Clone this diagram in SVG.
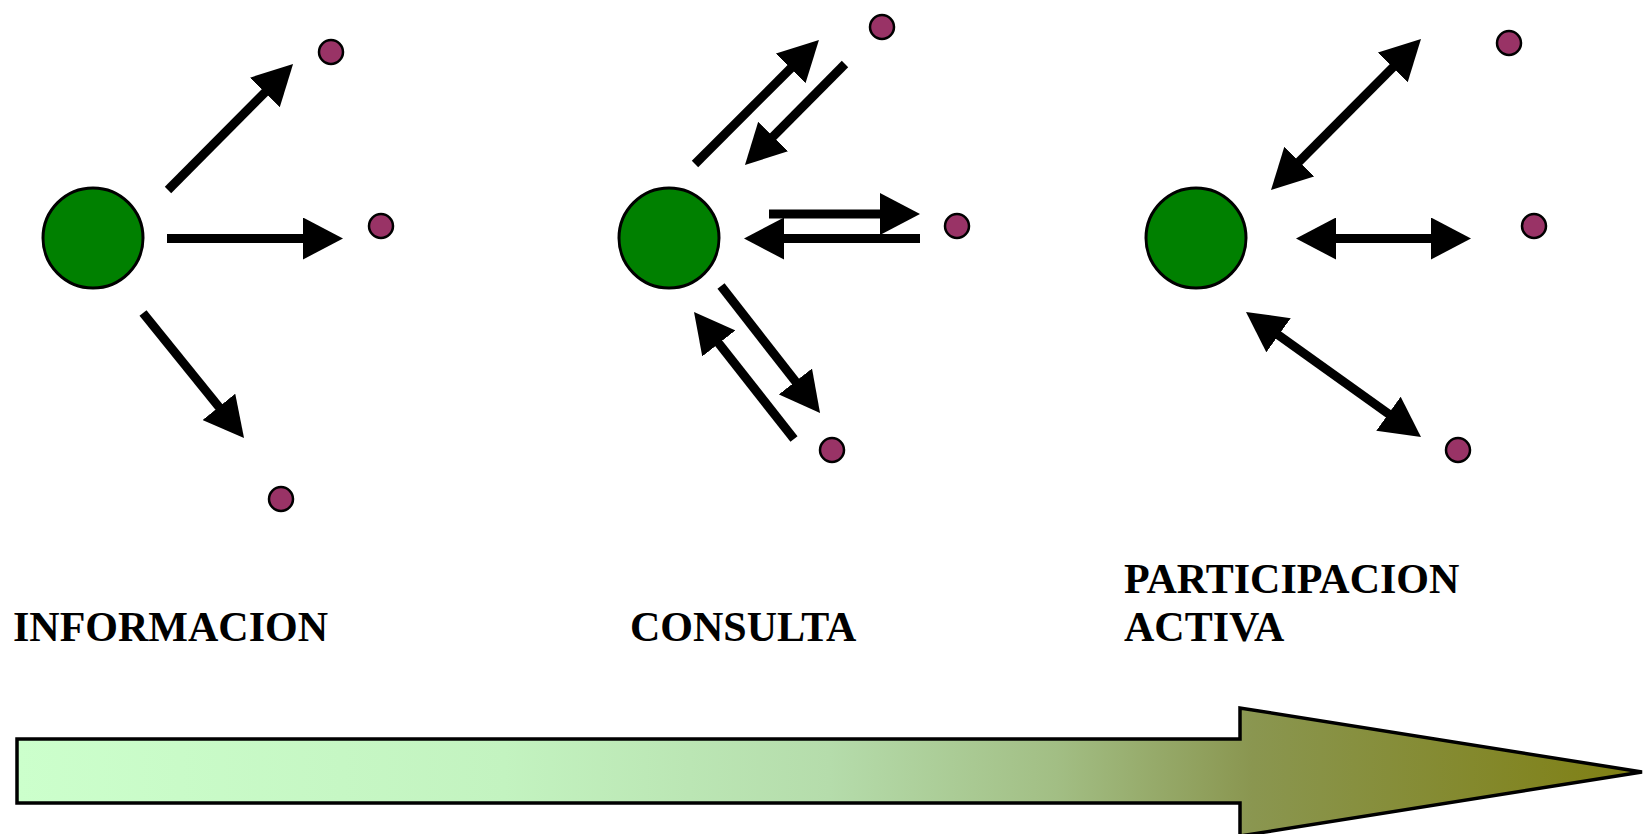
<svg xmlns="http://www.w3.org/2000/svg" width="1643" height="834" viewBox="0 0 1643 834">
  <style>
    .hub { fill: #008000; stroke: #000; stroke-width: 3; }
    .dot { fill: #993366; stroke: #000; stroke-width: 2.5; }
    .link { stroke: #000; stroke-width: 9; fill: none; }
    .one { marker-end: url(#head); }
    .two { marker-start: url(#head); marker-end: url(#head); }
    .label { font-family: "Liberation Serif", "Times New Roman", serif; font-weight: bold; font-size: 42px; fill: #000; }
  </style>
  <defs>
    <marker id="head" markerUnits="userSpaceOnUse" markerWidth="40" markerHeight="42" refX="4" refY="21" orient="auto-start-reverse" viewBox="0 0 40 42">
      <path d="M0,0 L40,21 L0,42 Z" fill="#000"/>
    </marker>
    <linearGradient id="scale" gradientUnits="userSpaceOnUse" x1="17" y1="0" x2="1642" y2="0">
      <stop offset="0" stop-color="#ccffcc"/>
      <stop offset="0.3" stop-color="#c3f3c0"/>
      <stop offset="0.5" stop-color="#b5dcab"/>
      <stop offset="0.64" stop-color="#a2be84"/>
      <stop offset="0.76" stop-color="#8a9650"/>
      <stop offset="1" stop-color="#7f7f12"/>
    </linearGradient>
  </defs>

  <!-- INFORMACION -->
  <g id="node-informacion">
    <circle class="hub" cx="93" cy="238" r="50"/>
    <circle class="dot" cx="331" cy="52" r="12"/>
    <circle class="dot" cx="381" cy="226" r="12"/>
    <circle class="dot" cx="281" cy="499" r="12"/>
    <text class="label" x="13" y="641">INFORMACION</text>
  </g>

  <!-- CONSULTA -->
  <g id="node-consulta">
    <circle class="hub" cx="669" cy="238" r="50"/>
    <circle class="dot" cx="882" cy="27" r="12"/>
    <circle class="dot" cx="957" cy="226" r="12"/>
    <circle class="dot" cx="832" cy="450" r="12"/>
    <text class="label" x="630" y="641">CONSULTA</text>
  </g>

  <!-- PARTICIPACION ACTIVA -->
  <g id="node-participacion">
    <circle class="hub" cx="1196" cy="238" r="50"/>
    <circle class="dot" cx="1509" cy="43" r="12"/>
    <circle class="dot" cx="1534" cy="226" r="12"/>
    <circle class="dot" cx="1458" cy="450" r="12"/>
    <text class="label" x="1124" y="593">PARTICIPACION</text>
    <text class="label" x="1124" y="641">ACTIVA</text>
  </g>

  <g id="connectors">
    <!-- one-way: hub to members -->
    <line class="link one" x1="168" y1="190" x2="267.7" y2="89.6"/>
    <line class="link one" x1="167" y1="238.5" x2="307" y2="238.5"/>
    <line class="link one" x1="143" y1="313" x2="221.4" y2="410"/>

    <!-- two separate opposite arrows -->
    <line class="link one" x1="695" y1="164" x2="793.5" y2="65.5"/>
    <line class="link one" x1="845" y1="64" x2="770.3" y2="139.4"/>
    <line class="link one" x1="769" y1="214" x2="884" y2="214"/>
    <line class="link one" x1="920" y1="238.5" x2="780" y2="238.5"/>
    <line class="link one" x1="721" y1="286" x2="797.9" y2="384.6"/>
    <line class="link one" x1="794" y1="439" x2="716.3" y2="340.3"/>

    <!-- double-headed -->
    <line class="link two" x1="1395.6" y1="64.6" x2="1296.4" y2="164.4"/>
    <line class="link two" x1="1332" y1="238.5" x2="1435" y2="238.5"/>
    <line class="link two" x1="1275.3" y1="332.9" x2="1391.7" y2="416.1"/>
  </g>

  <!-- progression arrow -->
  <g id="scale-arrow">
    <polygon points="17,739 1240,739 1240,708 1642,772 1240,836 1240,803 17,803" fill="url(#scale)" stroke="#000" stroke-width="3.5" stroke-linejoin="miter"/>
  </g>
</svg>
